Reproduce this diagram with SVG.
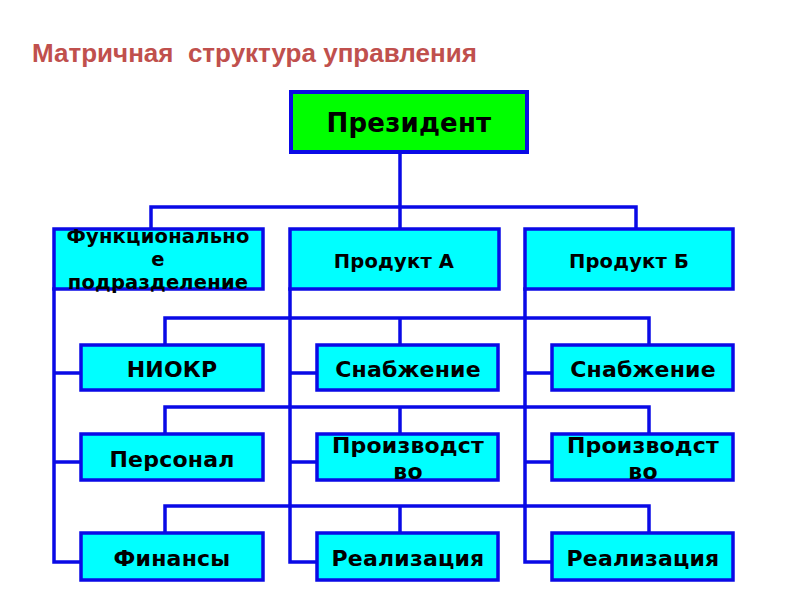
<svg xmlns="http://www.w3.org/2000/svg" width="800" height="600" viewBox="0 0 800 600">
<style>
.ln{stroke:#0a0ae6;stroke-width:3.5;fill:none;stroke-linecap:square}
.bx{fill:#00ffff;stroke:#0a0ae6;stroke-width:3.5}
.pr{fill:#00ff00;stroke:#0a0ae6;stroke-width:4}
.t{font-family:"DejaVu Sans",sans-serif;font-weight:bold;fill:#000;text-anchor:middle;font-size:22px;letter-spacing:0.2px}
.t1{font-size:19.5px}
.title{font-family:"Liberation Sans",Arial,sans-serif;font-weight:bold;fill:#c0504d;font-size:26px;white-space:pre}
</style>
<rect width="800" height="600" fill="#fff"/>
<text class="title" x="32" y="62" xml:space="preserve">Матричная  структура управления</text>
<g id="connectors">
<path class="ln" d="M400 152V228M151 228V207H636V228"/>
<path class="ln" d="M54 289V562M54 373H81M54 462H81M54 562H81"/>
<path class="ln" d="M290 289V562M290 373H317M290 462H317M290 562H317"/>
<path class="ln" d="M525 289V562M525 373H552M525 462H552M525 562H552"/>
<path class="ln" d="M165 345V318H649V345M400 318V345"/>
<path class="ln" d="M165 434V407H649V434M400 407V434"/>
<path class="ln" d="M165 533V506H649V533M400 506V533"/>
</g>
<g id="president"><rect class="pr" x="291" y="92" width="236" height="60"/><text class="t" style="font-size:26px" x="409" y="132">Президент</text></g>
<g id="func"><rect class="bx" x="54" y="229" width="209" height="60"/><text class="t t1" x="158" y="243">Функционально</text><text class="t t1" x="158" y="266">е</text><text class="t t1" x="158" y="289">подразделение</text></g>
<g id="prodA"><rect class="bx" x="290" y="229" width="209" height="60"/><text class="t t1" x="394" y="268">Продукт А</text></g>
<g id="prodB"><rect class="bx" x="525" y="229" width="208" height="60"/><text class="t t1" x="629" y="268">Продукт Б</text></g>
<g id="niokr"><rect class="bx" x="81" y="345" width="182" height="45"/><text class="t" x="172" y="377">НИОКР</text></g>
<g id="snabA"><rect class="bx" x="317" y="345" width="181" height="45"/><text class="t" x="408" y="377">Снабжение</text></g>
<g id="snabB"><rect class="bx" x="552" y="345" width="181" height="45"/><text class="t" x="643" y="377">Снабжение</text></g>
<g id="personal"><rect class="bx" x="81" y="434" width="182" height="46"/><text class="t" x="172" y="467">Персонал</text></g>
<g id="proizA"><rect class="bx" x="317" y="434" width="181" height="46"/><text class="t" x="408" y="453">Производст</text><text class="t" x="408" y="479">во</text></g>
<g id="proizB"><rect class="bx" x="552" y="434" width="181" height="46"/><text class="t" x="643" y="453">Производст</text><text class="t" x="643" y="479">во</text></g>
<g id="finansy"><rect class="bx" x="81" y="533" width="182" height="47"/><text class="t" x="172" y="566">Финансы</text></g>
<g id="realA"><rect class="bx" x="317" y="533" width="181" height="47"/><text class="t" x="408" y="566">Реализация</text></g>
<g id="realB"><rect class="bx" x="552" y="533" width="181" height="47"/><text class="t" x="643" y="566">Реализация</text></g>
</svg>
